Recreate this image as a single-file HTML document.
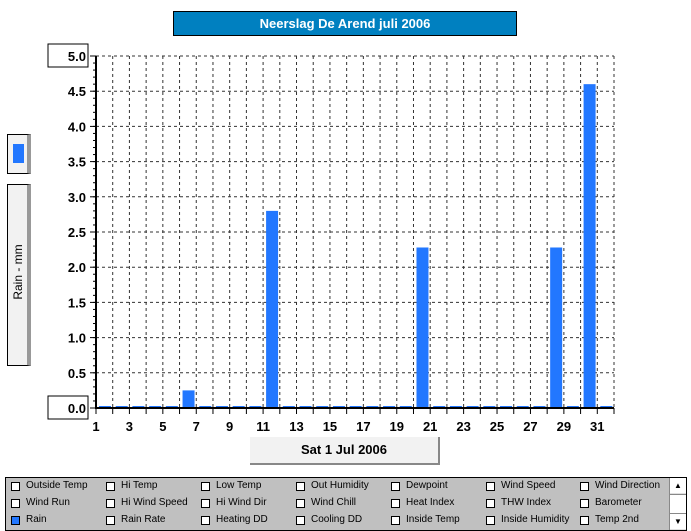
<!DOCTYPE html>
<html><head><meta charset="utf-8"><style>
body{margin:0;width:691px;height:531px;background:#fff;position:relative;overflow:hidden;font-family:"Liberation Sans",sans-serif;}
.abs{position:absolute;box-sizing:border-box;}
.leg{font-size:10px;color:#000;position:absolute;}
.cb{position:absolute;width:9px;height:9px;background:#fff;border:1px solid #000;box-sizing:border-box;}
</style></head><body>
<div class="abs" style="left:173px;top:11px;width:344px;height:25px;background:#0080c0;border:1px solid #000;color:#fff;font-weight:bold;font-size:13px;text-align:center;line-height:23px;">Neerslag De Arend juli 2006</div>
<div class="abs" style="left:7px;top:134px;width:24px;height:40px;background:#f2f2f2;border:1px solid #000;border-right:4px solid #999;"><div style="position:absolute;left:5px;top:9px;width:11px;height:19px;background:#2277ff"></div></div>
<div class="abs" style="left:7px;top:184px;width:24px;height:182px;background:#f2f2f2;border:1px solid #000;border-right:4px solid #999;"><div style="position:absolute;left:-40px;top:80px;width:100px;text-align:center;transform:rotate(-90deg);font-size:12px;">Rain - mm</div></div>
<svg class="abs" style="left:0;top:0" width="691" height="531" id="chart"></svg>
<div class="abs" style="left:250px;top:437px;width:190px;height:28px;background:#f2f2f2;border-right:2px solid #888;border-bottom:2px solid #888;font-weight:bold;font-size:13px;text-align:center;line-height:26px;">Sat 1 Jul 2006</div>
<div class="abs" id="legend" style="left:5px;top:477px;width:682px;height:54px;background:#c0c0c0;border:1px solid #000;">
<div class="abs" style="left:663px;top:0;width:17px;height:52px;background:#e0e0e0;border-left:1px solid #888;">
<div style="position:absolute;top:0;left:0;width:16px;height:15px;background:#fff;font-size:8px;text-align:center;line-height:15px">▲</div>
<div style="position:absolute;top:16px;left:0;width:16px;height:18px;background:#fff;border-top:1px solid #888;border-bottom:1px solid #888"></div>
<div style="position:absolute;top:36px;left:0;width:16px;height:15px;background:#fff;font-size:8px;text-align:center;line-height:15px">▼</div>
</div>
</div>
<script>
const days=[1,2,3,4,5,6,7,8,9,10,11,12,13,14,15,16,17,18,19,20,21,22,23,24,25,26,27,28,29,30,31];
const rain=[0,0,0,0,0,0.25,0,0,0,0,2.8,0,0,0,0,0,0,0,0,2.28,0,0,0,0,0,0,0,2.28,0,4.6,0];
const yTicks=[0,0.5,1,1.5,2,2.5,3,3.5,4,4.5,5];
const xTickLabels=[1,3,5,7,9,11,13,15,17,19,21,23,25,27,29,31];
const legendNames=["Outside Temp","Hi Temp","Low Temp","Out Humidity","Dewpoint","Wind Speed","Wind Direction","Wind Run","Hi Wind Speed","Hi Wind Dir","Wind Chill","Heat Index","THW Index","Barometer","Rain","Rain Rate","Heating DD","Cooling DD","Inside Temp","Inside Humidity","Temp 2nd"];
const NS="http://www.w3.org/2000/svg";
const svg=document.getElementById('chart');
const X0=96,X1=614,Y0=408,Y1=56;
const x=d=>X0+(d-1)*(X1-X0)/31;
const y=v=>Y0-v*(Y0-Y1)/5;
function mk(t,a){const e=document.createElementNS(NS,t);for(const k in a)e.setAttribute(k,a[k]);svg.appendChild(e);return e;}
for(let d=2;d<=32;d++){const l=mk('line',{x1:x(d),x2:x(d),y1:Y1,y2:Y0,stroke:'#333','stroke-dasharray':'3,3'});

}
yTicks.forEach(v=>{if(v>0){const l=mk('line',{x1:X0,x2:X1,y1:y(v),y2:y(v),stroke:'#333','stroke-dasharray':'3,3'});

}
const tk=mk('line',{x1:X0-6,x2:X0,y1:y(v),y2:y(v),stroke:'#000'});


const t=mk('text',{x:X0-10,y:y(v)+5,'text-anchor':'end','font-size':'13','font-weight':'bold','font-family':'Liberation Sans'});t.textContent=v.toFixed(1);

});
for(let i=0;i<50;i++){const v=i*0.1;const m=mk('line',{x1:X0-3,x2:X0,y1:y(v),y2:y(v),stroke:'#000'});

}
[[0],[5]].forEach(([v])=>{const r=mk('rect',{x:48,y:y(v)-12,width:40,height:23,fill:'none',stroke:'#000'});

});
days.forEach((d,i)=>{const v=rain[i];const h=Math.max(y(0)-y(v),2);const b=mk('rect',{x:x(d)+3,y:y(0)-h,width:12,height:h,fill:'#2277ff'});

});
const ax=mk('path',{d:`M${X0} ${Y1}V${Y0}H${X1}`,stroke:'#000','stroke-width':'2',fill:'none'});


for(let d=1;d<=32;d++){const t=mk('line',{x1:x(d),x2:x(d),y1:Y0,y2:Y0+6,stroke:'#000'});

}
xTickLabels.forEach(d=>{const t=mk('text',{x:x(d),y:Y0+23,'text-anchor':'middle','font-size':'13','font-weight':'bold','font-family':'Liberation Sans'});t.textContent=d;

});
const lg=document.getElementById('legend');
const colX=[5,100,195,290,385,480,574],rowY=[4,21,38];
legendNames.forEach((n,i)=>{const c=i%7,r=Math.floor(i/7);
const cb=document.createElement('div');cb.className='cb';cb.style.left=colX[c]+'px';cb.style.top=rowY[r]+'px';
if(n==='Rain')cb.style.background='#2277ff';


lg.appendChild(cb);
const s=document.createElement('div');s.className='leg';s.style.left=(colX[c]+15)+'px';s.style.top=(rowY[r]-2)+'px';s.textContent=n;


lg.appendChild(s);});
</script>
</body></html>
